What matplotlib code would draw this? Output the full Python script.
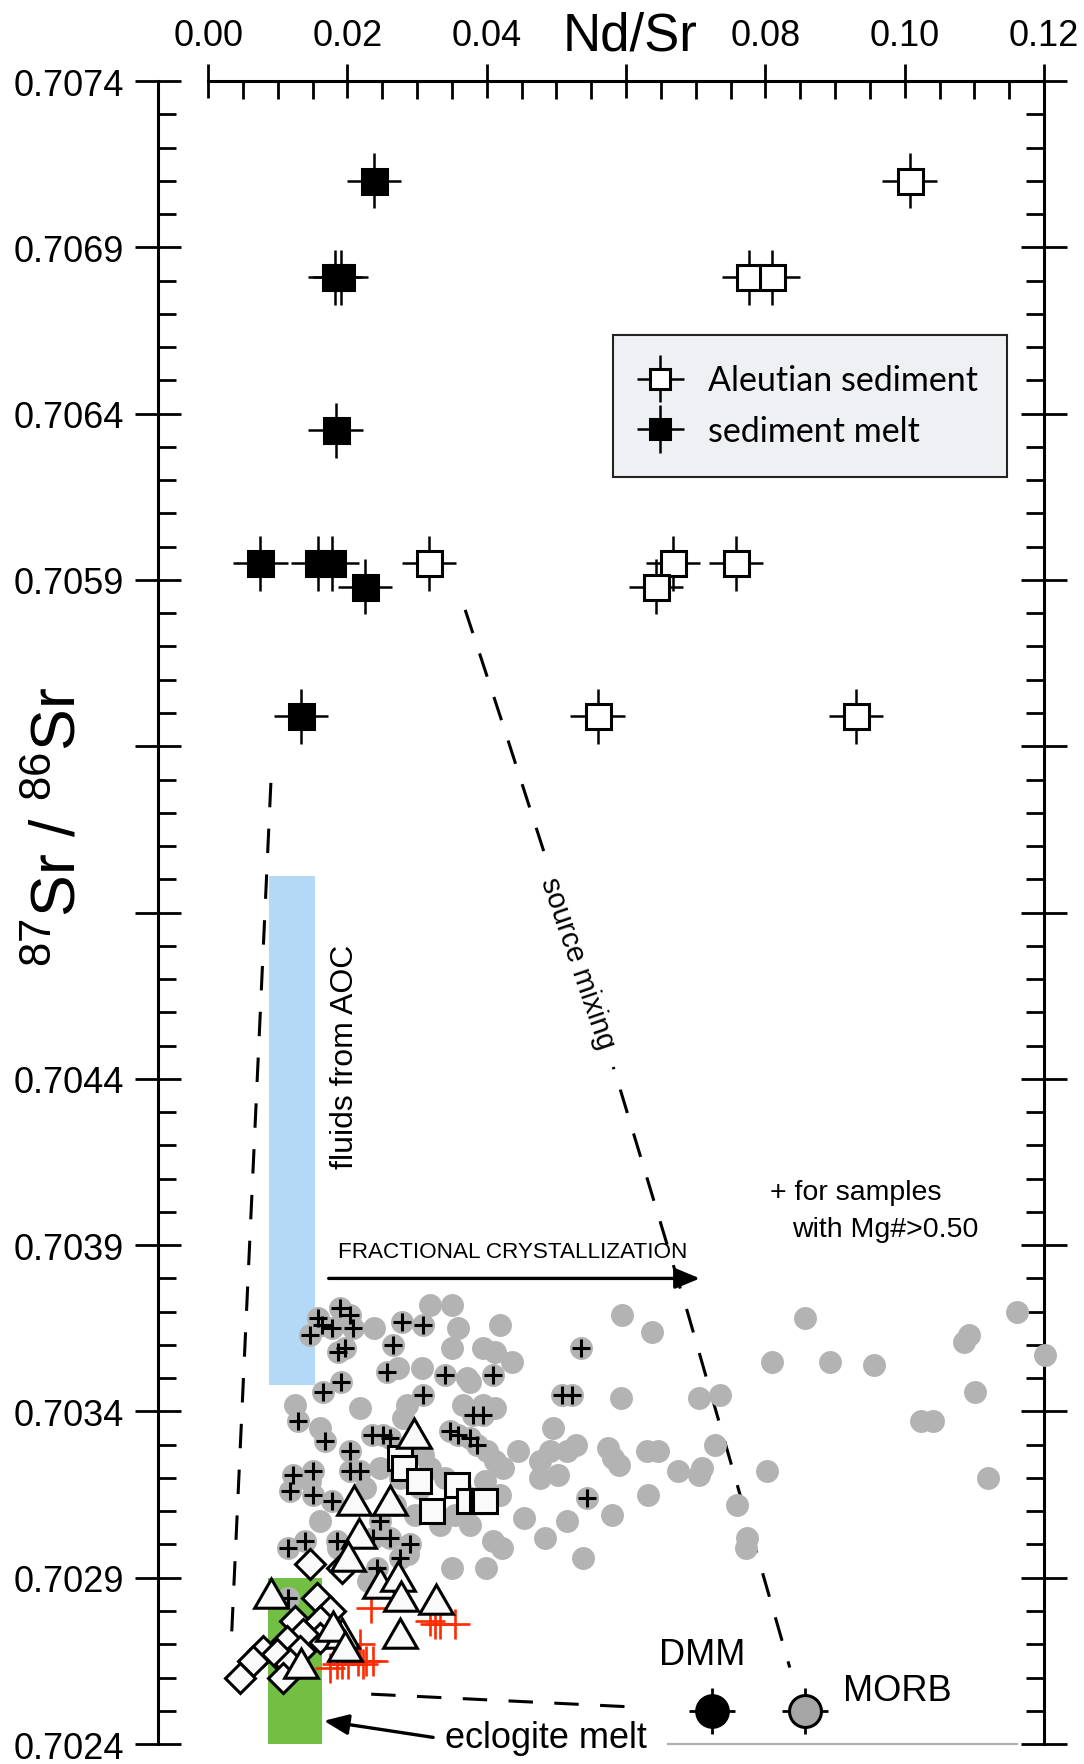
import numpy as np
import matplotlib
matplotlib.use('Agg')
import matplotlib.pyplot as plt
from matplotlib.ticker import FixedLocator, FixedFormatter
from matplotlib.patches import Rectangle
from matplotlib.container import ErrorbarContainer
from matplotlib.legend_handler import HandlerErrorbar

plt.rcParams['font.family'] = ['Liberation Sans', 'DejaVu Sans']
plt.rcParams['mathtext.fontset'] = 'custom'
plt.rcParams['mathtext.rm'] = 'Liberation Sans'
plt.rcParams['mathtext.it'] = 'Liberation Sans:italic'

# --- Aleutian sediment (open) and sediment melt (filled) ---
sed_x = [0.1007, 0.0776, 0.0810, 0.0317, 0.0667, 0.0643, 0.0758, 0.0559, 0.0930]
sed_y = [0.70710, 0.70681, 0.70681, 0.70595, 0.70595, 0.70588, 0.70595, 0.70549, 0.70549]
melt_x = [0.0238, 0.0182, 0.0190, 0.0183, 0.0075, 0.0158, 0.0178, 0.0225, 0.0133]
melt_y = [0.70710, 0.70681, 0.70681, 0.70635, 0.70595, 0.70595, 0.70595, 0.70588, 0.70549]
sed_xerr = 0.0039
sed_yerr = 0.000083

# --- arc lavas (grey circles) ---
gray_x = [0.0857, 0.0893, 0.0956, 0.1085, 0.1092, 0.1161, 0.1201, 0.1101, 0.1023, 0.1041,
          0.1120, 0.0594, 0.0637, 0.0535, 0.0508, 0.0522, 0.0593, 0.0705, 0.0735, 0.0810,
          0.0495, 0.0728, 0.0802, 0.0574, 0.0581, 0.0590, 0.0630, 0.0646, 0.0675, 0.0709,
          0.0705, 0.0528, 0.0515, 0.0491, 0.0477, 0.0502, 0.0477, 0.0632, 0.0544, 0.0759,
          0.0454, 0.0515, 0.0580, 0.0484, 0.0409, 0.0422, 0.0399, 0.0538, 0.0774, 0.0772,
          0.0398, 0.0319, 0.0350, 0.0419, 0.0359, 0.0238, 0.0278, 0.0309, 0.0158, 0.0189,
          0.0204, 0.0164, 0.0146, 0.0178, 0.0208, 0.0187, 0.0197, 0.0266, 0.0257, 0.0273,
          0.0307, 0.0350, 0.0340, 0.0395, 0.0412, 0.0372, 0.0376, 0.0436, 0.0409, 0.0309,
          0.0165, 0.0191, 0.0125, 0.0129, 0.0168, 0.0161, 0.0204, 0.0218, 0.0286, 0.0235,
          0.0251, 0.0261, 0.0280, 0.0366, 0.0395, 0.0412, 0.0380, 0.0395, 0.0347, 0.0359,
          0.0376, 0.0386, 0.0400, 0.0412, 0.0423, 0.0445, 0.0122, 0.0151, 0.0146, 0.0204,
          0.0218, 0.0309, 0.0118, 0.0151, 0.0178, 0.0161, 0.0115, 0.0139, 0.0185, 0.0187,
          0.0237, 0.0261, 0.0290, 0.0247, 0.0276, 0.0287, 0.0243, 0.0230, 0.0350, 0.0115,
          0.0319, 0.0340, 0.0362, 0.0376, 0.0355, 0.0333, 0.0376, 0.0419, 0.0304, 0.0276,
          0.0247, 0.0225, 0.0268, 0.0297]
gray_y = [0.70368, 0.70355, 0.70354, 0.70361, 0.70363, 0.70370, 0.70357, 0.70346, 0.70337, 0.70337,
          0.70320, 0.70369, 0.70364, 0.70359, 0.70345, 0.70345, 0.70344, 0.70344, 0.70345, 0.70355,
          0.70335, 0.70330, 0.70322, 0.70329, 0.70326, 0.70324, 0.70328, 0.70328, 0.70322, 0.70323,
          0.70321, 0.70330, 0.70328, 0.70328, 0.70325, 0.70321, 0.70320, 0.70315, 0.70314, 0.70312,
          0.70308, 0.70307, 0.70309, 0.70302, 0.70301, 0.70299, 0.70293, 0.70296, 0.70302, 0.70299,
          0.70319, 0.70372, 0.70372, 0.70366, 0.70365, 0.70365, 0.70367, 0.70366, 0.70368, 0.70371,
          0.70369, 0.70366, 0.70363, 0.70365, 0.70365, 0.70358, 0.70359, 0.70360, 0.70352, 0.70353,
          0.70353, 0.70359, 0.70351, 0.70359, 0.70358, 0.70350, 0.70349, 0.70355, 0.70351, 0.70345,
          0.70346, 0.70349, 0.70342, 0.70337, 0.70331, 0.70335, 0.70328, 0.70341, 0.70342, 0.70333,
          0.70333, 0.70332, 0.70338, 0.70342, 0.70342, 0.70341, 0.70339, 0.70339, 0.70334, 0.70333,
          0.70332, 0.70330, 0.70328, 0.70325, 0.70323, 0.70328, 0.70321, 0.70322, 0.70319, 0.70322,
          0.70322, 0.70327, 0.70316, 0.70315, 0.70313, 0.70307, 0.70299, 0.70301, 0.70301, 0.70299,
          0.70302, 0.70302, 0.70300, 0.70307, 0.70296, 0.70297, 0.70293, 0.70289, 0.70293, 0.70284,
          0.70323, 0.70320, 0.70317, 0.70314, 0.70309, 0.70306, 0.70306, 0.70315, 0.70317, 0.70320,
          0.70323, 0.70317, 0.70312, 0.70309]

# samples with Mg# > 0.50 (black crosses)
mg_x = [0.0535, 0.0508, 0.0522, 0.0544, 0.0278, 0.0309, 0.0158, 0.0189, 0.0204, 0.0164,
        0.0146, 0.0178, 0.0208, 0.0187, 0.0197, 0.0266, 0.0257, 0.0340, 0.0409, 0.0309,
        0.0165, 0.0191, 0.0129, 0.0168, 0.0204, 0.0235, 0.0251, 0.0261, 0.0380, 0.0395,
        0.0347, 0.0359, 0.0376, 0.0386, 0.0122, 0.0151, 0.0204, 0.0218, 0.0118, 0.0151,
        0.0178, 0.0115, 0.0139, 0.0185, 0.0237, 0.0261, 0.0290, 0.0247, 0.0276, 0.0243,
        0.0115]
mg_y = [0.70359, 0.70345, 0.70345, 0.70314, 0.70367, 0.70366, 0.70368, 0.70371, 0.70369, 0.70366,
        0.70363, 0.70365, 0.70365, 0.70358, 0.70359, 0.70360, 0.70352, 0.70351, 0.70351, 0.70345,
        0.70346, 0.70349, 0.70337, 0.70331, 0.70328, 0.70333, 0.70333, 0.70332, 0.70339, 0.70339,
        0.70334, 0.70333, 0.70332, 0.70330, 0.70321, 0.70322, 0.70322, 0.70322, 0.70316, 0.70315,
        0.70313, 0.70299, 0.70301, 0.70301, 0.70302, 0.70302, 0.70300, 0.70307, 0.70296, 0.70293,
        0.70284]

# open squares, triangles, diamonds, red crosses
sq_x = [0.0276, 0.0281, 0.0303, 0.0322, 0.0357, 0.0375, 0.0393, 0.0398]
sq_y = [0.70326, 0.70323, 0.70319, 0.70310, 0.70318, 0.70313, 0.70313, 0.70313]
tri_x = [0.0296, 0.0210, 0.0261, 0.0217, 0.0201, 0.0247, 0.0273, 0.0277, 0.0090, 0.0327,
         0.0276, 0.0192, 0.0179, 0.0197, 0.0133]
tri_y = [0.70332, 0.70312, 0.70312, 0.70302, 0.70295, 0.70287, 0.70289, 0.70283, 0.70284, 0.70282,
         0.70272, 0.70272, 0.70274, 0.70268, 0.70263]
dia_x = [0.0146, 0.0192, 0.0156, 0.0175, 0.0125, 0.0161, 0.0161, 0.0136, 0.0113, 0.0132,
         0.0079, 0.0099, 0.0118, 0.0065, 0.0108, 0.0046]
dia_y = [0.70294, 0.70293, 0.70284, 0.70280, 0.70277, 0.70277, 0.70272, 0.70273, 0.70271, 0.70268,
         0.70268, 0.70267, 0.70264, 0.70265, 0.70260, 0.70260]
red_x = [0.0234, 0.0319, 0.0326, 0.0333, 0.0355, 0.0175, 0.0185, 0.0192, 0.0201, 0.0215,
         0.0222, 0.0227, 0.0237, 0.0218]
red_y = [0.70281, 0.70277, 0.70276, 0.70276, 0.70276, 0.70263, 0.70264, 0.70264, 0.70264, 0.70265,
         0.70264, 0.70265, 0.70265, 0.70270]

# end members
dmm_x, dmm_y = 0.0724, 0.70250
morb_x, morb_y = 0.0857, 0.70250
em_xerr = 0.0033
em_yerr = 0.000069

# boxes and lines
aoc_box = (0.0088, 0.0154, 0.70348, 0.70501)
ecl_box = (0.0086, 0.0164, 0.7024, 0.70290)
mix_x = [0.0369, 0.0424, 0.0587, 0.0688, 0.0835]
mix_y = [0.70581, 0.70546, 0.70440, 0.70370, 0.70263]
left_x = [0.0090, 0.0033]
left_y = [0.70529, 0.70270]
bottom_x = [0.0234, 0.0624]
bottom_y = [0.70255, 0.70251]
base_x = [0.0660, 0.1161]
base_y = [0.7024, 0.7024]
fc_tail, fc_tip = (0.0173, 0.70380), (0.0706, 0.70380)
ecl_tail, ecl_tip = (0.0323, 0.70242), (0.0166, 0.70247)

xtick_vals = [0.0, 0.02, 0.04, 0.06, 0.08, 0.10, 0.12]
xtick_labels = ['0.00', '0.02', '0.04', '', '0.08', '0.10', '0.12']
ytick_vals = [0.7024, 0.7029, 0.7034, 0.7039, 0.7044, 0.7049, 0.7054, 0.7059, 0.7064, 0.7069, 0.7074]
ytick_labels = ['0.7024', '0.7029', '0.7034', '0.7039', '0.7044', '', '', '0.7059', '0.7064', '0.7069', '0.7074']

fig = plt.figure(figsize=(10.84, 17.65), dpi=100)
ax = fig.add_axes([0.1458, 0.0113, 0.8173, 0.9422])
ax.set_xlim(-0.0072, 0.12)
ax.set_ylim(0.7024, 0.7074)

ax.add_patch(Rectangle((aoc_box[0], aoc_box[2]), aoc_box[1] - aoc_box[0], aoc_box[3] - aoc_box[2],
                       facecolor='#b4d9f6', lw=0, zorder=1))
ax.add_patch(Rectangle((ecl_box[0], ecl_box[2]), ecl_box[1] - ecl_box[0], ecl_box[3] - ecl_box[2],
                       facecolor='#72bf44', lw=0, zorder=1))

dash = (0, (8, 7))
ax.plot(mix_x, mix_y, color='black', lw=2.2, ls=dash, zorder=2)
ax.plot(left_x, left_y, color='black', lw=2.2, ls=dash, zorder=2)
ax.plot(bottom_x, bottom_y, color='black', lw=2.2, ls=dash, zorder=2)
ax.plot(base_x, base_y, color='#b0b0b0', lw=1.6, clip_on=False, zorder=2)

# arc samples
ax.plot(gray_x, gray_y, 'o', ms=16.5, mfc='#b3b3b3', mec='none', clip_on=False, zorder=3)
ax.plot(mg_x, mg_y, '+', ms=13, mew=2.2, color='black', zorder=3.2)
ax.plot(sq_x, sq_y, 's', ms=17.5, mfc='#fafafa', mec='black', mew=2.2, zorder=3.4)
ax.plot(red_x, red_y, '+', ms=21, mew=1.9, color='#ff2a00', zorder=3.5)
ax.plot(dia_x, dia_y, 'D', ms=15.5, mfc='#fafafa', mec='black', mew=2.2, zorder=3.6)
ax.plot(tri_x, tri_y, marker=(3, 0, 0), ls='none', ms=28, mfc='#fafafa', mec='black',
        mew=2.2, zorder=3.7)

# sediments
ax.errorbar(sed_x, sed_y, xerr=sed_xerr, yerr=sed_yerr, fmt='s', ms=18, mfc='white',
            mec='black', mew=2.2, ecolor='black', elinewidth=1.8, capsize=0,
            label='Aleutian sediment', zorder=4)
ax.errorbar(melt_x, melt_y, xerr=sed_xerr, yerr=sed_yerr, fmt='s', ms=18, mfc='black',
            mec='black', mew=2.2, ecolor='black', elinewidth=1.8, capsize=0,
            label='sediment melt', zorder=4)

# DMM and MORB
ax.errorbar([dmm_x], [dmm_y], xerr=em_xerr, yerr=em_yerr, fmt='o', ms=23, mfc='black',
            mec='black', mew=2, ecolor='black', elinewidth=2, capsize=0, zorder=4)
ax.errorbar([morb_x], [morb_y], xerr=em_xerr, yerr=em_yerr, fmt='o', ms=23, mfc='#a6a6a6',
            mec='black', mew=2.2, ecolor='black', elinewidth=2, capsize=0, zorder=4)

# arrows
arr = dict(arrowstyle='-|>,head_length=0.6,head_width=0.25', lw=2.4, color='black',
           mutation_scale=25, shrinkA=0, shrinkB=0)
ax.annotate('', xy=fc_tip, xytext=fc_tail, arrowprops=arr, zorder=5)
ax.annotate('', xy=ecl_tip, xytext=ecl_tail, arrowprops=arr, zorder=5, annotation_clip=False)

# text labels
ax.text(0.0187, 0.70388, 'FRACTIONAL CRYSTALLIZATION', fontsize=16.2, ha='left', va='center')
ax.text(0.0197, 0.70447, 'fluids from AOC', fontsize=23, rotation=90, ha='center', va='center')
ax.text(0.0530, 0.70475, 'source mixing', fontsize=21, rotation=-71, ha='center', va='center',
        bbox=dict(facecolor='white', edgecolor='none', pad=15), zorder=2.5)
ax.text(0.0807, 0.70406, '+ for samples', fontsize=20.5, ha='left', va='center')
ax.text(0.0838, 0.70395, 'with Mg#>0.50', fontsize=20.5, ha='left', va='center')
ax.text(0.0709, 0.70267, 'DMM', fontsize=26, ha='center', va='center')
ax.text(0.0989, 0.70256, 'MORB', fontsize=26, ha='center', va='center')
ax.text(0.0485, 0.70242, 'eclogite melt', fontsize=26, ha='center', va='center')

# axes styling
for s in ['left', 'right', 'top']:
    ax.spines[s].set_linewidth(2.2)
ax.spines['bottom'].set_visible(False)
ax.spines['top'].set_bounds(0, 0.12)

ax.xaxis.tick_top()
ax.xaxis.set_major_locator(FixedLocator(xtick_vals))
ax.xaxis.set_major_formatter(FixedFormatter(xtick_labels))
ax.xaxis.set_minor_locator(FixedLocator(np.arange(0, 0.1201, 0.005)))
ax.yaxis.set_major_locator(FixedLocator(ytick_vals))
ax.yaxis.set_major_formatter(FixedFormatter(ytick_labels))
ax.yaxis.set_minor_locator(FixedLocator(np.arange(0.7024, 0.70741, 0.0001)))

ax.tick_params(axis='x', which='both', top=True, bottom=False, labeltop=True, labelbottom=False)
ax.tick_params(axis='y', which='both', left=True, right=True, labelright=False)
ax.tick_params(axis='x', which='major', direction='inout', length=24, width=2, labelsize=26, pad=8)
ax.tick_params(axis='y', which='major', direction='inout', length=33, width=2, labelsize=26, pad=8)
ax.tick_params(which='minor', direction='in', length=13, width=2)

fig.text(0.581, 0.9796, 'Nd/Sr', fontsize=38, ha='center', va='center')
fig.text(0.054, 0.5314, r'$^{87}$Sr / $^{86}$Sr', fontsize=45, rotation=90, ha='center', va='center')

leg = ax.legend(loc='upper left', bbox_to_anchor=(0.514, 0.765, 0.4447, 0.0826), mode='expand',
                borderaxespad=0, prop={'family': 'Lato', 'size': 24.5}, frameon=True,
                fancybox=False, edgecolor='#222222', facecolor='#eff0f4', framealpha=1,
                handlelength=1.0, handletextpad=0.9, borderpad=0.88, labelspacing=0.55,
                numpoints=1, markerscale=0.8,
                handler_map={ErrorbarContainer: HandlerErrorbar(xerr_size=0.7)})
leg.get_frame().set_linewidth(1.5)
leg.set_zorder(6)

fig.savefig('out.png', dpi=100)
